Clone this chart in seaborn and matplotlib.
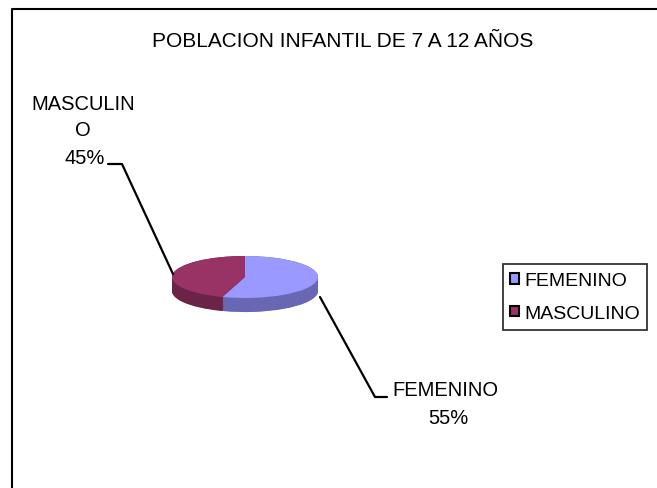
import numpy as np
import matplotlib.pyplot as plt
from matplotlib.lines import Line2D
from matplotlib.patches import Rectangle
import seaborn as sns

sns.set_theme(style="white")
plt.rcParams['font.family'] = ['Liberation Sans', 'DejaVu Sans']
plt.rcParams['text.color'] = 'black'

# =========================
# Data
# =========================
title = "POBLACION INFANTIL DE 7 A 12 AÑOS"
categories = ["FEMENINO", "MASCULINO"]
values = [55, 45]
top_colors = ["#9999FF", "#993366"]
side_colors = ["#6767B4", "#6C2348"]

W, H = 657, 489
fig = plt.figure(figsize=(W / 100, H / 100), dpi=100)
fig.patch.set_facecolor("white")


def px(x, y):
    # pixel position -> figure fraction
    return x / W, 1 - y / H


# =========================
# Pie (flattened, with a thin side)
# =========================
depth = 0.67
x0, y0 = px(172, 257 + 21 * (2 + depth))
ax = fig.add_axes([x0, y0, 146 / W, 21 * (2 + depth) / H])

for k in np.linspace(depth, 0, 30):
    ax.pie(values, colors=side_colors, startangle=252, center=(0, -k),
           wedgeprops=dict(linewidth=0))
wedges, _ = ax.pie(values, colors=top_colors, startangle=252,
                   wedgeprops=dict(linewidth=0))
ax.set_aspect('auto')
ax.set_xlim(-1, 1)
ax.set_ylim(-1 - depth, 1)
ax.axis('off')

# =========================
# Title, labels, leader lines
# =========================
fig.text(*px(343, 42), title, ha='center', va='center', fontsize=15)

fig.text(*px(83, 105), categories[1][:-1], ha='center', va='center', fontsize=14.5)
fig.text(*px(83, 130), categories[1][-1], ha='center', va='center', fontsize=14.5)
fig.text(*px(85, 159), f"{values[1]}%", ha='center', va='center', fontsize=14.5)

fig.text(*px(445, 391), categories[0], ha='center', va='center', fontsize=14.5)
fig.text(*px(448, 419), f"{values[0]}%", ha='center', va='center', fontsize=14.5)

for pts in ([(108, 165), (122, 165), (173, 275)],
            [(320, 298), (375, 398), (387, 398)]):
    xs, ys = zip(*[px(x, y) for x, y in pts])
    fig.add_artist(Line2D(xs, ys, color="black", lw=1.6))

# chart border (top and left visible)
xs, ys = zip(*[px(12, 489), px(12, 10), px(657, 10)])
fig.add_artist(Line2D(xs, ys, color="black", lw=1.5))

# =========================
# Legend
# =========================
handles = [Rectangle((0, 0), 1, 1, facecolor=c, edgecolor="black", lw=1.5)
           for c in top_colors]
leg = fig.legend(handles=handles, labels=categories, loc='center',
                 bbox_to_anchor=px(575, 298), frameon=True,
                 fancybox=False, edgecolor="black", fontsize=14,
                 handlelength=0.45, handleheight=0.45, handletextpad=0.25,
                 labelspacing=0.8, borderpad=0.4, borderaxespad=0)
leg.get_frame().set_linewidth(1.3)

fig.savefig("out.png", dpi=100)
